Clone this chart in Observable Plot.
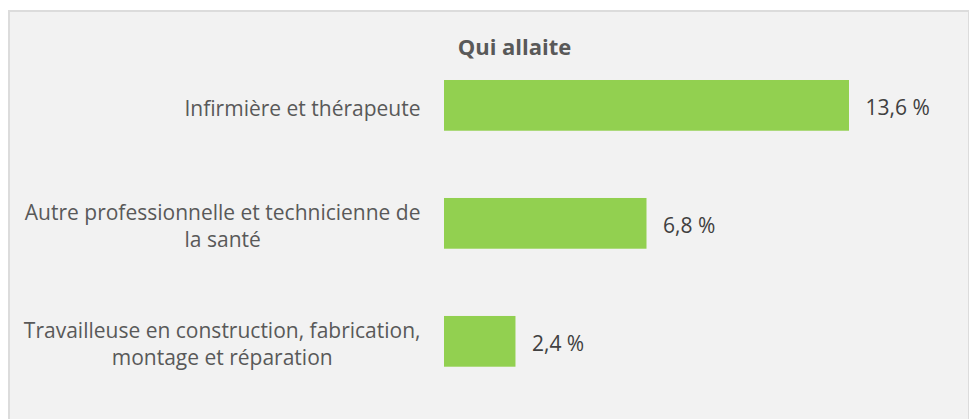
<!DOCTYPE html>
<html>
<head>
<meta charset="utf-8">
<script src="https://cdn.jsdelivr.net/npm/d3@7"></script>
<script src="https://cdn.jsdelivr.net/npm/@observablehq/plot@0.6"></script>
<style>
  html, body { margin: 0; padding: 0; background: #ffffff; }
  #panel { position: absolute; left: 8px; top: 10px; width: 958px; height: 420px;
           background: #F2F2F2; border: 2px solid #DCDCDC; border-bottom: none; }
  #chart { position: absolute; left: 0; top: 0; }
  #chart svg { background: transparent; }
</style>
</head>
<body>
<div id="panel"></div>
<div id="chart"></div>
<script>
const title = "Qui allaite";
const categories = [
  "Infirmière et thérapeute",
  "Autre professionnelle et technicienne de la santé",
  "Travailleuse en construction, fabrication, montage et réparation"
];
const wrappedLabels = [
  "Infirmière et thérapeute",
  "Autre professionnelle et technicienne de\nla santé",
  "Travailleuse en construction, fabrication,\nmontage et réparation"
];
const values = [13.6, 6.8, 2.4];

const data = categories.map((c, i) => ({category: c, value: values[i], label: wrappedLabels[i]}));

const font = "'Open Sans', sans-serif";
const fontSize = 21;
const ctx = document.createElement("canvas").getContext("2d");
ctx.font = `${fontSize}px 'Open Sans'`;
const blockWidth = wrappedLabels.map(l => Math.max(...l.split("\n").map(s => ctx.measureText(s).width)));

const fmt = v => v.toFixed(1).replace(".", ",") + " %";

const labelMarks = data.map((d, i) => Plot.text([d], {
  y: "category", text: "label", frameAnchor: "left", textAnchor: "middle", lineAnchor: "middle",
  dx: -(24 + blockWidth[i] / 2), dy: 1, lineHeight: 1.29,
  fill: "#595959", fontSize: fontSize, fontFamily: font
}));

const chart = Plot.plot({
  width: 969,
  height: 419,
  marginLeft: 444,
  marginRight: 120,
  marginTop: 44.6,
  marginBottom: 16.9,
  style: {background: "transparent", fontFamily: font},
  x: {domain: [0, 13.6], axis: null},
  y: {domain: categories, paddingInner: 0.57, paddingOuter: 0.3, round: false, axis: null},
  marks: [
    Plot.barX(data, {x: "value", y: "category", fill: "#92D050"}),
    Plot.text(data, {x: "value", y: "category", text: d => fmt(d.value), textAnchor: "start", lineAnchor: "middle",
      dx: 16, dy: 2, fill: "#404040", fontSize: fontSize, fontFamily: font}),
    ...labelMarks,
    Plot.text([title], {frameAnchor: "top-left", dx: 514 - 444, dy: 3, textAnchor: "middle", lineAnchor: "middle",
      fill: "#595959", fontSize: 22, fontWeight: "bold", fontFamily: font})
  ]
});
document.getElementById("chart").appendChild(chart);
</script>
</body>
</html>
